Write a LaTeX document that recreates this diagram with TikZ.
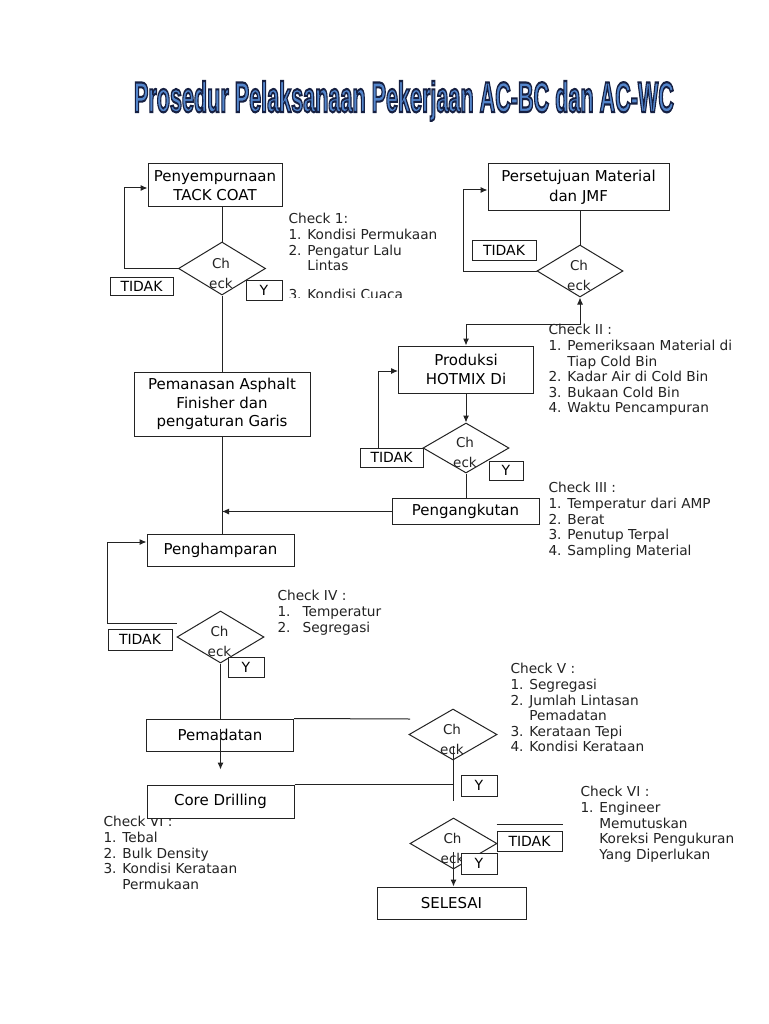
\documentclass[tikz,border=0pt]{standalone}
\usepackage{fontspec}
\setmainfont{DejaVu Sans}
\usetikzlibrary{shapes.geometric,arrows.meta,calc}
\definecolor{ttlblue}{RGB}{84,134,204}
\definecolor{ink}{RGB}{35,35,35}
\font\ttlraw="Liberation Sans/B:embolden=5" at 40pt
\newcommand\ttltext{\ttlraw Prosedur Pelaksanaan Pekerjaan AC-BC dan AC-WC}
\newcommand\ttlbox{\textcolor{ttlblue}{\special{pdf:literal direct 0.086 0.125 0.259 RG}\resizebox{540pt}{31pt}{\ttltext}}}
\newcommand\boxfont{\fontsize{15}{18.5}\selectfont}
\newcommand\smallfont{\fontsize{14}{16}\selectfont}
\newcommand\diafont{\fontsize{13.5}{20}\selectfont}
\newcommand\chkfont{\fontsize{13.7}{15.6}\selectfont}
\begin{document}
\begin{tikzpicture}[x=1pt,y=-1pt,line width=1pt,
  box/.style={draw=ink,fill=white,inner sep=0,align=center,font=\boxfont},
  sbox/.style={draw=ink,fill=white,inner sep=0,align=center,font=\smallfont},
  dia/.style={draw=ink,diamond,inner sep=0},
  dtext/.style={inner sep=0,align=center,font=\diafont,text=ink},
  chk/.style={inner sep=0,align=left,anchor=north west,font=\chkfont,text=ink},
  arr/.style={draw=ink,-{Latex[length=7pt,width=6pt]}},
  arrb/.style={draw=ink,{Latex[length=7pt,width=6pt]}-{Latex[length=7pt,width=6pt]}},
  ln/.style={draw=ink}]
\useasboundingbox (0,0) rectangle (768,1024);
\fill[white] (0,0) rectangle (768,1024);

% title (blue fill, dark outline)
\node[inner sep=0,anchor=base] (ttl) at (404,112) {\ttlbox};

% check lists
\node[chk] (k1) at (288,213) {Check 1:\\1. Kondisi Permukaan\\2. Pengatur Lalu\\\hphantom{2. }Lintas};
\begin{scope}
\clip (280,278) rectangle (460,297.5);
\node[chk] (k1b) at (288,289) {3. Kondisi Cuaca};
\end{scope}
\node[chk] (k2) at (548,324) {Check II :\\1. Pemeriksaan Material di\\\hphantom{1. }Tiap Cold Bin\\2. Kadar Air di Cold Bin\\3. Bukaan Cold Bin\\4. Waktu Pencampuran};
\node[chk] (k3) at (548,482) {Check III :\\1. Temperatur dari AMP\\2. Berat\\3. Penutup Terpal\\4. Sampling Material};
\node[chk] (k4) at (277,590) {Check IV :\\1.\hspace{12pt}Temperatur\\2.\hspace{12pt}Segregasi};
\node[chk] (k5) at (510,663) {Check V :\\1. Segregasi\\2. Jumlah Lintasan\\\hphantom{2. }Pemadatan\\3. Kerataan Tepi\\4. Kondisi Kerataan};
\node[chk] (k6) at (103,816) {Check VI :\\1. Tebal\\2. Bulk Density\\3. Kondisi Kerataan\\\hphantom{3. }Permukaan};
\node[chk] (k7) at (580,786) {Check VI :\\1. Engineer\\\hphantom{1. }Memutuskan\\\hphantom{1. }Koreksi Pengukuran\\\hphantom{1. }Yang Diperlukan};

% process boxes
\node[box,minimum width=134pt,minimum height=43pt] (b1) at (215,185.5) {Penyempurnaan\\TACK COAT};
\node[box,minimum width=181pt,minimum height=47pt] (b2) at (578.5,187.5) {Persetujuan Material\\[1.5pt]dan JMF};
\node[box,minimum width=135pt,minimum height=47pt] (b3) at (466,369.5) {Produksi\\[1pt]HOTMIX Di};
\node[box,minimum width=176pt,minimum height=64pt] (b4) at (222,404) {Pemanasan Asphalt\\Finisher dan\\pengaturan Garis};
\node[box,minimum width=147pt,minimum height=26pt] (b5) at (465.5,511.5) {Pengangkutan};
\node[box,minimum width=147pt,minimum height=32pt] (b6) at (220.5,550) {Penghamparan};
\node[box,minimum width=147pt,minimum height=32pt] (b7) at (220,735) {Pemadatan};
\node[box,minimum width=147pt,minimum height=33pt] (b8) at (220.5,801.5) {Core Drilling};
\node[box,minimum width=149pt,minimum height=32pt] (b9) at (451.5,903) {SELESAI};

% decisions
\node[dia,minimum width=87pt,minimum height=53pt] (d1) at (222,268.5) {};
\node[dia,minimum width=86pt,minimum height=52pt] (d2) at (580,271) {};
\node[dia,minimum width=86pt,minimum height=50pt] (d3) at (466,448) {};
\node[dia,minimum width=87pt,minimum height=52pt] (d4) at (220.5,637) {};
\node[dia,minimum width=88pt,minimum height=51pt] (d5) at (453,734.5) {};
\node[dia,minimum width=87pt,minimum height=51pt] (d6) at (453.5,843.5) {};
\foreach \d in {d1,d2,d3,d4,d5,d6}
  \node[dtext] (\d t) at ($(\d.center)+(-1,4.5)$) {Ch\\eck};

% small answer boxes
\node[sbox,minimum width=63pt,minimum height=18pt] (t1) at (141.5,286) {TIDAK};
\node[sbox,minimum width=36pt,minimum height=20pt] (y1) at (264,290) {Y};
\node[sbox,minimum width=64pt,minimum height=20pt] (t2) at (504,250) {TIDAK};
\node[sbox,minimum width=63pt,minimum height=19pt] (t3) at (391.5,457.5) {TIDAK};
\node[sbox,minimum width=34pt,minimum height=19pt] (y3) at (506,470.5) {Y};
\node[sbox,minimum width=64pt,minimum height=21pt] (t4) at (140,639.5) {TIDAK};
\node[sbox,minimum width=36pt,minimum height=20pt] (y4) at (246,667) {Y};
\node[sbox,minimum width=36pt,minimum height=21pt] (y5) at (479,785.5) {Y};
\node[sbox,minimum width=65pt,minimum height=20pt] (t6) at (529.5,841) {TIDAK};
\node[sbox,minimum width=36pt,minimum height=21pt] (y6) at (479,863.5) {Y};

% connectors
\draw[ln] (d1.north |- b1.south) -- (d1.north);
\draw[arr] (d1.west) -- ++(-54,0) |- ($(b1.west)+(0,2.5)$);
\draw[ln] (d1.south) -- (d1.south |- b4.north);
\draw[ln] (d2.north |- b2.south) -- (d2.north);
\draw[arr] (d2.west) -- ++(-73,0) |- ($(b2.west)+(0,2.5)$);
\draw[arrb] (d2.south) -- ++(0,27) -| (b3.north);
\draw[arr] (b3.south) -- (d3.north);
\draw[arr] ($(t3.north west)+(19,0)$) |- ($(b3.west)+(0,1.5)$);
\draw[ln] (d3.south) -- (d3.south |- b5.north);
\draw[arr] (b5.west) -- (b5.west -| b4.south);
\draw[ln] (b4.south) -- (b4.south |- b6.north);
\draw[arr] ($(d4.west)+(0,-14)$) -- ++(-69,0) |- ($(b6.west)+(0,-8)$);
\draw[ln] (d4.south) -- (d4.south |- b7.north);
\draw[arr] ($(d4.south |- b7.north)+(0,10)$) -- ($(d4.south |- b7.north)+(0,51)$);
\coordinate (c5) at (410,719);
\draw[ln] (b7.north east) -- (c5);
\draw[ln] ($(d5.center)+(0,11)$) -- ($(d5.center)+(0,66.5)$);
\draw[ln] (b8.north east) -- (b8.north east -| d5.center);
\draw[arr] ($(d6.center)+(0,8.5)$) -- (b9.north -| d6.center);
\draw[ln] ($(t6.north west)+(0,-6)$) -- ($(t6.north east)+(0,-6)$);
\end{tikzpicture}
\end{document}
